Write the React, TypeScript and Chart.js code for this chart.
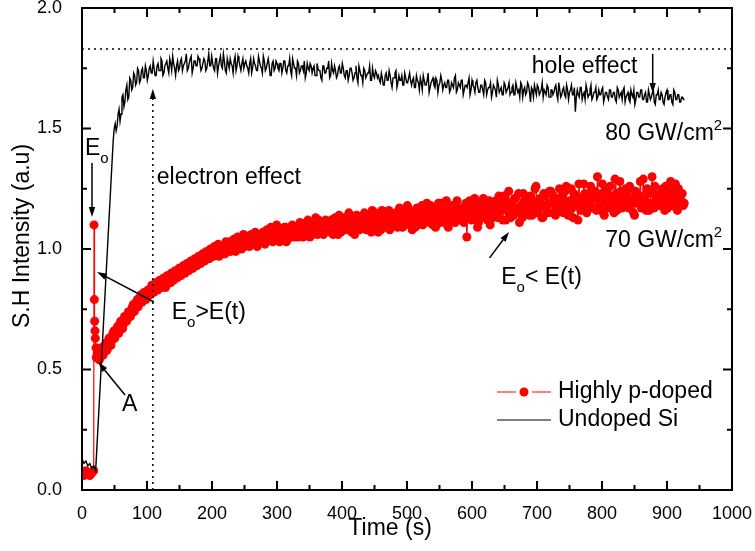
import React, { useEffect, useRef } from "react";
import { Chart, registerables } from "chart.js";

Chart.register(...registerables);

const FONT = "'Liberation Sans', Arial, Helvetica, sans-serif";

// ---------------- data ----------------
const seriesLabels = ["Highly p-doped", "Undoped Si"];
const xTitle = "Time (s)";
const yTitle = "S.H Intensity (a.u)";
const xMin = 0, xMax = 1000, xStep = 100;
const yMin = 0, yMax = 2, yStep = 0.5;

// Undoped Si (black)
const undopedEarlyStart = 0;
const undopedEarlyStep = 3;
const undopedEarly = [0.13, 0.11, 0.12, 0.10, 0.11, 0.09, 0.10, 0.08];
// main record, two interleaved sample sets (A at 48+3i s, B at 49.5+3i s)
const undopedMainStart = 48;
const undopedMainBStart = 49.5;
const undopedMainStep = 3;
const undopedMain = [
  1.45, 1.52, 1.51, 1.58, 1.56, 1.64, 1.61, 1.68, 1.63, 1.70, 1.67, 1.72, 1.69, 1.74, 1.70, 1.75, 1.71, 1.74, 1.72, 1.76, 1.73, 1.75, 1.72, 1.77, 1.74, 1.78, 1.73, 1.77, 1.75, 1.79, 1.74, 1.77, 1.72, 1.78,
  1.75, 1.79, 1.76, 1.78, 1.74, 1.77, 1.80, 1.75, 1.78, 1.76, 1.79, 1.74, 1.77, 1.78, 1.75, 1.81, 1.76,
  1.77, 1.74, 1.79, 1.76, 1.80, 1.75, 1.78, 1.73, 1.77, 1.79, 1.76, 1.78, 1.74, 1.80, 1.76, 1.77, 1.75,
  1.78, 1.75, 1.77, 1.73, 1.79, 1.76, 1.74, 1.78, 1.75, 1.80, 1.74, 1.77, 1.76, 1.72, 1.78, 1.75, 1.77,
  1.74, 1.77, 1.75, 1.78, 1.73, 1.76, 1.74, 1.79, 1.75, 1.72, 1.77, 1.74, 1.76, 1.78, 1.73, 1.75, 1.77,
  1.73, 1.76, 1.72, 1.75, 1.74, 1.70, 1.76, 1.73, 1.75, 1.71, 1.77, 1.73, 1.74, 1.72, 1.76, 1.73, 1.75,
  1.71, 1.74, 1.72, 1.75, 1.70, 1.73, 1.71, 1.76, 1.72, 1.69, 1.74, 1.72, 1.73, 1.70, 1.75, 1.71, 1.73,
  1.72, 1.69, 1.71, 1.68, 1.73, 1.70, 1.72, 1.67, 1.71, 1.74, 1.69, 1.70, 1.72, 1.68, 1.71, 1.69, 1.73,
  1.68, 1.71, 1.67, 1.70, 1.66, 1.69, 1.72, 1.68, 1.70, 1.65, 1.69, 1.71, 1.67, 1.70, 1.68, 1.72, 1.66,
  1.69, 1.67, 1.70, 1.66, 1.68, 1.71, 1.65, 1.69, 1.67, 1.70, 1.66, 1.68, 1.69, 1.64, 1.70, 1.67, 1.69,
  1.67, 1.65, 1.68, 1.64, 1.69, 1.66, 1.67, 1.63, 1.68, 1.66, 1.70, 1.65, 1.67, 1.64, 1.68, 1.66, 1.69,
  1.65, 1.68, 1.64, 1.67, 1.66, 1.69, 1.63, 1.67, 1.65, 1.68, 1.61, 1.66, 1.68, 1.64, 1.67, 1.65, 1.69,
  1.66, 1.64, 1.67, 1.63, 1.66, 1.65, 1.68, 1.62, 1.66, 1.64, 1.67, 1.63, 1.66, 1.65, 1.68, 1.64, 1.57,
  1.66, 1.63, 1.67, 1.64, 1.62, 1.66, 1.64, 1.68, 1.63, 1.65, 1.62, 1.66, 1.64, 1.67, 1.63, 1.65, 1.62,
  1.66, 1.63, 1.65, 1.61, 1.66, 1.64, 1.62, 1.67, 1.63, 1.65, 1.61, 1.64, 1.66, 1.62, 1.65, 1.63, 1.66,
  1.62, 1.65, 1.61, 1.64, 1.63, 1.66, 1.60, 1.64, 1.62, 1.65, 1.61, 1.63, 1.66, 1.62, 1.64, 1.60, 1.65,
  1.62, 1.64, 1.61, 1.63, 1.62,
];
const undopedMainB = [
  1.50, 1.49, 1.56, 1.53, 1.63, 1.59, 1.66, 1.62, 1.71, 1.66, 1.73, 1.68, 1.75, 1.69, 1.74, 1.71, 1.76, 1.70, 1.75, 1.73, 1.78, 1.72, 1.76, 1.74, 1.79, 1.72, 1.76, 1.78, 1.73, 1.77, 1.80, 1.75, 1.76, 1.74,
  1.78, 1.74, 1.77, 1.81, 1.75, 1.79, 1.73, 1.78, 1.76, 1.80, 1.77, 1.75, 1.79, 1.74, 1.78, 1.76, 1.80,
  1.75, 1.79, 1.73, 1.78, 1.76, 1.81, 1.74, 1.79, 1.75, 1.77, 1.73, 1.80, 1.76, 1.78, 1.74, 1.79, 1.77,
  1.76, 1.73, 1.79, 1.75, 1.77, 1.74, 1.80, 1.76, 1.73, 1.78, 1.75, 1.79, 1.72, 1.77, 1.74, 1.78, 1.75,
  1.77, 1.73, 1.78, 1.74, 1.76, 1.79, 1.72, 1.77, 1.75, 1.78, 1.73, 1.76, 1.74, 1.71, 1.77, 1.74, 1.76,
  1.75, 1.72, 1.77, 1.74, 1.71, 1.76, 1.73, 1.75, 1.78, 1.72, 1.74, 1.76, 1.71, 1.75, 1.73, 1.77, 1.72,
  1.74, 1.70, 1.75, 1.73, 1.71, 1.76, 1.69, 1.74, 1.72, 1.75, 1.71, 1.73, 1.76, 1.70, 1.72, 1.74, 1.71,
  1.70, 1.73, 1.68, 1.72, 1.70, 1.74, 1.69, 1.71, 1.73, 1.67, 1.72, 1.70, 1.68, 1.73, 1.69, 1.71, 1.70,
  1.70, 1.67, 1.72, 1.69, 1.71, 1.66, 1.70, 1.68, 1.73, 1.67, 1.70, 1.68, 1.71, 1.65, 1.69, 1.70, 1.68,
  1.67, 1.70, 1.65, 1.69, 1.67, 1.72, 1.66, 1.68, 1.70, 1.64, 1.68, 1.67, 1.71, 1.66, 1.68, 1.65, 1.70,
  1.65, 1.68, 1.66, 1.70, 1.64, 1.67, 1.69, 1.65, 1.67, 1.63, 1.68, 1.66, 1.64, 1.69, 1.65, 1.67, 1.64,
  1.67, 1.64, 1.69, 1.65, 1.63, 1.68, 1.66, 1.64, 1.69, 1.65, 1.67, 1.63, 1.66, 1.68, 1.64, 1.66, 1.63,
  1.65, 1.68, 1.63, 1.66, 1.64, 1.67, 1.64, 1.69, 1.63, 1.66, 1.64, 1.68, 1.62, 1.66, 1.64, 1.67, 1.63,
  1.64, 1.67, 1.62, 1.65, 1.68, 1.63, 1.66, 1.62, 1.65, 1.67, 1.63, 1.64, 1.66, 1.61, 1.65, 1.63, 1.66,
  1.63, 1.65, 1.62, 1.67, 1.63, 1.65, 1.66, 1.61, 1.64, 1.62, 1.66, 1.63, 1.60, 1.65, 1.63, 1.66, 1.62,
  1.64, 1.61, 1.66, 1.62, 1.65, 1.61, 1.64, 1.66, 1.62, 1.64, 1.60, 1.65, 1.62, 1.64, 1.61, 1.66, 1.62,
  1.64, 1.61, 1.63, 1.62,
];

// Highly p-doped (red)
const dopedEarlyStart = 0;
const dopedEarlyStep = 3;
const dopedEarly = [0.07, 0.06, 0.08, 0.07, 0.06, 0.07, 0.08];
const dopedSpikeTimes = [18.5, 19, 19.5, 20, 20.5, 21.5];
const dopedSpikeValues = [1.10, 0.79, 0.70, 0.66, 0.63, 0.59];
const dopedMainStart = 22;
const dopedMainBStart = 23.5;
const dopedMainStep = 3;
const dopedMain = [
  0.55, 0.56, 0.55, 0.58, 0.57, 0.61, 0.60, 0.63, 0.62, 0.66, 0.65, 0.68, 0.67, 0.70, 0.69, 0.72, 0.71,
  0.74, 0.74, 0.77, 0.76, 0.79, 0.78, 0.81, 0.80, 0.82, 0.81, 0.83, 0.82, 0.84, 0.83, 0.85, 0.84, 0.86,
  0.86, 0.85, 0.87, 0.88, 0.86, 0.89, 0.88, 0.90, 0.89, 0.91, 0.90, 0.92, 0.91, 0.93, 0.92, 0.94, 0.93,
  0.95, 0.94, 0.96, 0.95, 0.97, 0.96, 0.98, 0.96, 0.99, 0.97, 0.98, 1.00, 0.97, 0.99, 1.01, 0.98, 1.00,
  1.01, 0.99, 1.02, 1.00, 1.03, 1.01, 1.02, 1.04, 1.01, 1.03, 1.05, 1.02, 1.04, 1.03, 1.06, 1.02, 1.05,
  1.04, 1.06, 1.03, 1.07, 1.05, 1.04, 1.08, 1.05, 1.06, 1.03, 1.07, 1.06, 1.09, 1.04, 1.07, 1.05, 1.08,
  1.06, 1.09, 1.07, 1.10, 1.05, 1.08, 1.11, 1.07, 1.09, 1.06, 1.10, 1.08, 1.12, 1.07, 1.09, 1.11, 1.08,
  1.10, 1.07, 1.12, 1.09, 1.11, 1.06, 1.13, 1.10, 1.08, 1.12, 1.09, 1.14, 1.07, 1.11, 1.10, 1.13, 1.08,
  1.12, 1.09, 1.14, 1.10, 1.13, 1.07, 1.12, 1.15, 1.10, 1.11, 1.08, 1.14, 1.12, 1.09, 1.16, 1.11, 1.13,
  1.10, 1.14, 1.12, 1.16, 1.09, 1.13, 1.11, 1.17, 1.12, 1.08, 1.15, 1.13, 1.10, 1.14, 1.18, 1.11, 1.13,
  1.15, 1.11, 1.17, 1.13, 1.09, 1.16, 1.14, 1.19, 1.12, 1.15, 1.10, 1.17, 1.13, 1.16, 1.11, 1.20, 1.14,
  1.12, 1.17, 1.15, 1.05, 1.18, 1.13, 1.16, 1.21, 1.14, 1.11, 1.17, 1.15, 1.19, 1.13, 1.16, 1.10, 1.18,
  1.15, 1.20, 1.13, 1.18, 1.16, 1.22, 1.12, 1.17, 1.15, 1.19, 1.14, 1.21, 1.16, 1.11, 1.18, 1.23, 1.15,
  1.19, 1.14, 1.21, 1.17, 1.25, 1.15, 1.20, 1.18, 1.13, 1.22, 1.16, 1.19, 1.24, 1.15, 1.21, 1.17, 1.20,
  1.16, 1.22, 1.18, 1.26, 1.14, 1.20, 1.17, 1.23, 1.19, 1.12, 1.21, 1.18, 1.27, 1.16, 1.22, 1.19, 1.24,
  1.17, 1.21, 1.30, 1.18, 1.23, 1.15, 1.20, 1.25, 1.17, 1.22, 1.19, 1.29, 1.16, 1.21, 1.24, 1.18, 1.20,
  1.22, 1.17, 1.25, 1.19, 1.14, 1.23, 1.20, 1.28, 1.18, 1.21, 1.16, 1.24, 1.19, 1.30, 1.17, 1.22, 1.20,
  1.23, 1.18, 1.21, 1.26, 1.17, 1.20, 1.24, 1.19, 1.27, 1.16, 1.22, 1.20, 1.18,
];
const dopedMainB = [
  0.57, 0.54, 0.59, 0.56, 0.60, 0.58, 0.63, 0.60, 0.65, 0.63, 0.67, 0.65, 0.70, 0.67, 0.72, 0.70, 0.74,
  0.72, 0.76, 0.74, 0.78, 0.76, 0.80, 0.78, 0.82, 0.79, 0.83, 0.81, 0.85, 0.82, 0.86, 0.83, 0.87, 0.84,
  0.88, 0.84, 0.89, 0.86, 0.90, 0.87, 0.91, 0.88, 0.92, 0.89, 0.93, 0.90, 0.94, 0.91, 0.95, 0.92, 0.96,
  0.93, 0.97, 0.94, 0.98, 0.95, 0.99, 0.96, 1.00, 0.97, 1.01, 0.98, 1.02, 0.99, 1.01, 0.98, 1.03, 0.99,
  1.03, 1.00, 1.04, 0.99, 1.05, 1.02, 1.00, 1.06, 1.02, 1.05, 1.01, 1.06, 1.03, 1.07, 1.01, 1.05, 1.03,
  1.07, 1.02, 1.08, 1.04, 1.09, 1.03, 1.06, 1.10, 1.04, 1.08, 1.05, 1.09, 1.03, 1.08, 1.06, 1.10, 1.05,
  1.09, 1.05, 1.11, 1.06, 1.10, 1.08, 1.12, 1.05, 1.10, 1.07, 1.13, 1.06, 1.09, 1.11, 1.06, 1.12, 1.08,
  1.08, 1.12, 1.06, 1.13, 1.09, 1.14, 1.07, 1.11, 1.13, 1.08, 1.15, 1.10, 1.12, 1.06, 1.14, 1.09, 1.12,
  1.10, 1.15, 1.08, 1.13, 1.11, 1.16, 1.09, 1.14, 1.07, 1.13, 1.16, 1.10, 1.12, 1.15, 1.08, 1.14, 1.11,
  1.15, 1.09, 1.17, 1.12, 1.14, 1.10, 1.18, 1.11, 1.15, 1.13, 1.09, 1.17, 1.12, 1.16, 1.10, 1.15, 1.19,
  1.12, 1.18, 1.10, 1.15, 1.13, 1.19, 1.11, 1.16, 1.14, 1.20, 1.09, 1.15, 1.18, 1.12, 1.17, 1.13, 1.16,
  1.17, 1.11, 1.19, 1.14, 1.20, 1.12, 1.18, 1.15, 1.09, 1.19, 1.13, 1.21, 1.16, 1.12, 1.20, 1.15, 1.13,
  1.19, 1.14, 1.22, 1.17, 1.12, 1.20, 1.16, 1.24, 1.13, 1.18, 1.21, 1.15, 1.23, 1.17, 1.13, 1.20, 1.18,
  1.16, 1.22, 1.14, 1.19, 1.26, 1.17, 1.21, 1.13, 1.23, 1.18, 1.15, 1.24, 1.19, 1.22, 1.14, 1.20, 1.25,
  1.21, 1.15, 1.24, 1.19, 1.17, 1.25, 1.13, 1.22, 1.18, 1.27, 1.16, 1.20, 1.23, 1.15, 1.21, 1.26, 1.17,
  1.24, 1.16, 1.22, 1.19, 1.27, 1.14, 1.21, 1.18, 1.26, 1.20, 1.15, 1.23, 1.19, 1.28, 1.17, 1.22, 1.25,
  1.18, 1.26, 1.21, 1.15, 1.24, 1.19, 1.22, 1.17, 1.29, 1.20, 1.25, 1.16, 1.23, 1.19, 1.26, 1.21, 1.18,
  1.21, 1.25, 1.16, 1.23, 1.19, 1.28, 1.18, 1.22, 1.17, 1.25, 1.20, 1.23, 1.19,
];

// reference lines (data units)
const saturationLevel = 1.83;
const electronMarkerTime = 109;
const electronMarkerTop = 1.664;

// annotations (data units); parts: [text, 0 normal | -1 subscript | 1 superscript]
const noteTexts: { parts: [string, number][]; x: number; y: number }[] = [
  { parts: [["electron effect", 0]], x: 115, y: 1.295 },
  { parts: [["hole effect", 0]], x: 692, y: 1.755 },
  { parts: [["80 GW/cm", 0], ["2", 1]], x: 805, y: 1.478 },
  { parts: [["70 GW/cm", 0], ["2", 1]], x: 805, y: 1.035 },
  { parts: [["E", 0], ["o", -1], [">E(t)", 0]], x: 138, y: 0.734 },
  { parts: [["E", 0], ["o", -1], ["< E(t)", 0]], x: 645, y: 0.88 },
  { parts: [["E", 0], ["o", -1]], x: 4.6, y: 1.415 },
  { parts: [["A", 0]], x: 61.5, y: 0.353 },
];
const noteArrows: { from: [number, number]; to: [number, number] }[] = [
  { from: [15.4, 1.357], to: [15.4, 1.133] },
  { from: [110.8, 0.78], to: [23.1, 0.905] },
  { from: [66.2, 0.394], to: [25.1, 0.53] },
  { from: [878, 1.81], to: [878, 1.647] },
  { from: [627, 0.963], to: [657, 1.071] },
];

// ---------------- helpers ----------------
function grid(start: number, step: number, values: number[]) {
  return values.map((v, i) => ({ x: start + i * step, y: v }));
}
function byX(a: { x: number }, b: { x: number }) {
  return a.x - b.x;
}

function drawArrow(ctx: CanvasRenderingContext2D, x1: number, y1: number, x2: number, y2: number, dashed = false) {
  const ang = Math.atan2(y2 - y1, x2 - x1);
  const len = 10, hw = 3.2;
  ctx.save();
  ctx.strokeStyle = "#000";
  ctx.fillStyle = "#000";
  ctx.lineWidth = 1.5;
  if (dashed) ctx.setLineDash([2, 4]);
  ctx.beginPath();
  ctx.moveTo(x1, y1);
  ctx.lineTo(x2 - Math.cos(ang) * len * 0.8, y2 - Math.sin(ang) * len * 0.8);
  ctx.stroke();
  ctx.setLineDash([]);
  ctx.beginPath();
  ctx.moveTo(x2, y2);
  ctx.lineTo(x2 - Math.cos(ang) * len - Math.sin(ang) * hw, y2 - Math.sin(ang) * len + Math.cos(ang) * hw);
  ctx.lineTo(x2 - Math.cos(ang) * len + Math.sin(ang) * hw, y2 - Math.sin(ang) * len - Math.cos(ang) * hw);
  ctx.closePath();
  ctx.fill();
  ctx.restore();
}

function drawRich(ctx: CanvasRenderingContext2D, parts: [string, number][], x: number, y: number) {
  let cx = x;
  ctx.save();
  ctx.fillStyle = "#000";
  ctx.textAlign = "left";
  ctx.textBaseline = "middle";
  for (const [t, kind] of parts) {
    const size = kind === 0 ? 23 : 15;
    ctx.font = `${size}px ${FONT}`;
    const dy = kind === -1 ? 10 : kind === 1 ? -8 : 0;
    ctx.fillText(t, cx, y + dy);
    cx += ctx.measureText(t).width;
  }
  ctx.restore();
}

const decorPlugin = {
  id: "decor",
  afterDraw(chart: any) {
    const { ctx, chartArea: a, scales } = chart;
    const xs = scales.x, ys = scales.y;
    ctx.save();

    // dotted reference lines
    ctx.strokeStyle = "#000";
    ctx.lineWidth = 1.5;
    ctx.setLineDash([2, 4]);
    ctx.beginPath();
    const yl = ys.getPixelForValue(saturationLevel);
    ctx.moveTo(a.left, yl);
    ctx.lineTo(a.right, yl);
    ctx.stroke();
    ctx.setLineDash([]);
    drawArrow(ctx, xs.getPixelForValue(electronMarkerTime), a.bottom, xs.getPixelForValue(electronMarkerTime), ys.getPixelForValue(electronMarkerTop), true);

    // annotations
    for (const n of noteTexts) drawRich(ctx, n.parts, xs.getPixelForValue(n.x), ys.getPixelForValue(n.y));
    for (const ar of noteArrows)
      drawArrow(ctx, xs.getPixelForValue(ar.from[0]), ys.getPixelForValue(ar.from[1]), xs.getPixelForValue(ar.to[0]), ys.getPixelForValue(ar.to[1]));

    // frame
    ctx.strokeStyle = "#000";
    ctx.lineWidth = 2;
    ctx.strokeRect(a.left, a.top, a.right - a.left, a.bottom - a.top);

    // inward ticks (major + minor, mirrored)
    const xt = xs.ticks.map((t: any) => t.value);
    const yt = ys.ticks.map((t: any) => t.value);
    const tickAt = (vals: number[], major: boolean, horiz: boolean) => {
      const L = major ? 9 : 5;
      for (const v of vals) {
        ctx.beginPath();
        if (horiz) {
          const p = xs.getPixelForValue(v);
          ctx.moveTo(p, a.bottom); ctx.lineTo(p, a.bottom - L);
          ctx.moveTo(p, a.top); ctx.lineTo(p, a.top + L);
        } else {
          const p = ys.getPixelForValue(v);
          ctx.moveTo(a.left, p); ctx.lineTo(a.left + L, p);
          ctx.moveTo(a.right, p); ctx.lineTo(a.right - L, p);
        }
        ctx.stroke();
      }
    };
    const mids = (arr: number[]) => arr.slice(1).map((v, i) => (v + arr[i]) / 2);
    tickAt(xt, true, true);
    tickAt(mids(xt), false, true);
    tickAt(yt, true, false);
    tickAt(mids(yt), false, false);

    // axis titles
    ctx.fillStyle = "#000";
    ctx.font = `23px ${FONT}`;
    ctx.textAlign = "center";
    ctx.textBaseline = "middle";
    ctx.fillText(xTitle, a.left + (a.right - a.left) * 0.474, 529);
    ctx.save();
    ctx.translate(23, a.top + (a.bottom - a.top) * 0.473);
    ctx.rotate(-Math.PI / 2);
    ctx.fillText(yTitle, 0, 0);
    ctx.restore();

    // legend
    const ds = chart.data.datasets;
    const lx = 497, rows = [392, 420];
    ds.forEach((d: any, i: number) => {
      const y = rows[i];
      ctx.strokeStyle = d.borderColor;
      ctx.lineWidth = 1.2;
      ctx.beginPath();
      if (d.pointRadius > 0) {
        ctx.moveTo(lx, y); ctx.lineTo(lx + 19, y);
        ctx.moveTo(lx + 35, y); ctx.lineTo(lx + 54, y);
        ctx.stroke();
        ctx.fillStyle = d.backgroundColor;
        ctx.beginPath();
        ctx.arc(lx + 27, y, 4.5, 0, Math.PI * 2);
        ctx.fill();
      } else {
        ctx.lineWidth = 1;
        ctx.moveTo(lx, y); ctx.lineTo(lx + 54, y);
        ctx.stroke();
      }
      ctx.fillStyle = "#000";
      ctx.font = `23px ${FONT}`;
      ctx.textAlign = "left";
      ctx.textBaseline = "middle";
      ctx.fillText(d.label, lx + 61, y);
    });
    ctx.restore();
  },
};

export default function App() {
  const ref = useRef<HTMLCanvasElement | null>(null);
  useEffect(() => {
    if (!ref.current) return;
    const dopedPoints = [
      ...grid(dopedEarlyStart, dopedEarlyStep, dopedEarly),
      ...dopedSpikeTimes.map((t, i) => ({ x: t, y: dopedSpikeValues[i] })),
      ...[...grid(dopedMainStart, dopedMainStep, dopedMain), ...grid(dopedMainBStart, dopedMainStep, dopedMainB)].sort(byX),
    ];
    const undopedPoints = [
      ...grid(undopedEarlyStart, undopedEarlyStep, undopedEarly),
      ...[...grid(undopedMainStart, undopedMainStep, undopedMain), ...grid(undopedMainBStart, undopedMainStep, undopedMainB)].sort(byX),
    ];
    const zeroPad = (s: any) => {
      s.paddingLeft = 0; s.paddingRight = 0; s.paddingTop = 0; s.paddingBottom = 0;
    };
    const chart = new Chart(ref.current, {
      type: "line",
      data: {
        datasets: [
          {
            label: seriesLabels[0],
            data: dopedPoints,
            borderColor: "#ff0000",
            backgroundColor: "#ff0000",
            borderWidth: 1.2,
            pointRadius: 4.5,
            pointBorderWidth: 0,
            pointHoverRadius: 4.5,
            tension: 0,
            order: 2,
          },
          {
            label: seriesLabels[1],
            data: undopedPoints,
            borderColor: "#000000",
            backgroundColor: "#000000",
            borderWidth: 1.4,
            pointRadius: 0,
            tension: 0,
            order: 1,
          },
        ],
      },
      options: {
        animation: false,
        responsive: false,
        devicePixelRatio: 1,
        events: [],
        layout: { padding: { left: 0, right: 23, top: 8, bottom: 0 }, autoPadding: false },
        plugins: { legend: { display: false }, tooltip: { enabled: false } },
        scales: {
          x: {
            type: "linear",
            min: xMin,
            max: xMax,
            grid: { display: false },
            border: { display: false },
            ticks: {
              stepSize: xStep,
              autoSkip: false,
              maxRotation: 0,
              color: "#000",
              padding: 5,
              font: { family: FONT, size: 18 },
              callback: (v: any) => String(v),
            },
            title: { display: false },
            afterFit: (s: any) => { s.height = 61; zeroPad(s); },
          },
          y: {
            type: "linear",
            min: yMin,
            max: yMax,
            grid: { display: false },
            border: { display: false },
            ticks: {
              stepSize: yStep,
              autoSkip: false,
              color: "#000",
              padding: 12,
              font: { family: FONT, size: 18 },
              callback: (v: any) => Number(v).toFixed(1),
            },
            title: { display: false },
            afterFit: (s: any) => { s.width = 82; zeroPad(s); },
          },
        },
      } as any,
      plugins: [decorPlugin],
    });
    return () => chart.destroy();
  }, []);

  return (
    <div style={{ position: "absolute", left: 0, top: 0, width: 755, height: 551, background: "#fff" }}>
      <canvas ref={ref} width={755} height={551} style={{ display: "block" }} />
    </div>
  );
}
